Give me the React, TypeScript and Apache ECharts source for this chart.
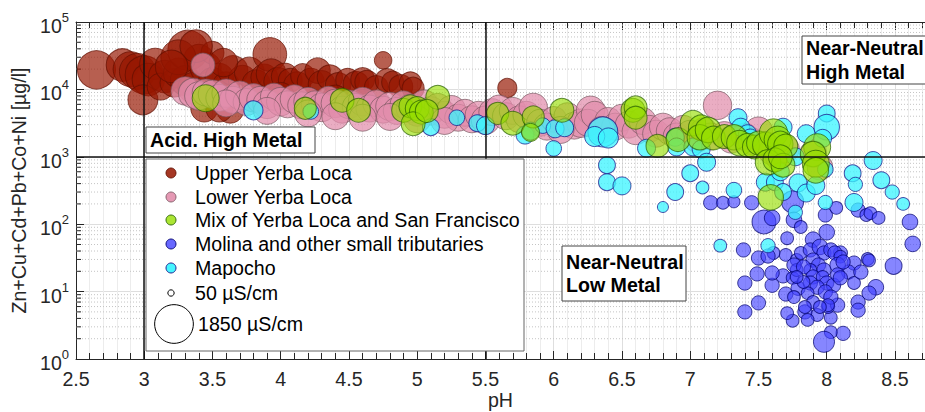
import React, { useEffect, useRef } from "react";
import * as echarts from "echarts";

// ---- DATA: [pH, metals µg/l, conductivity µS/cm] ----
const upperYerbaLoca: number[][] = [
  [2.65, 19500, 1800], [2.84, 23000, 1300], [2.9, 20000, 1500], [2.95, 18500, 1600], [3.0, 16500, 1800],
  [3.03, 14000, 1300], [2.99, 7000, 1100], [3.08, 24000, 1200], [3.15, 15500, 1300], [3.12, 11000, 900],
  [3.22, 12500, 1000], [3.25, 17500, 1100], [3.32, 38000, 2000], [3.3, 13500, 1100], [3.36, 10500, 1200],
  [3.4, 28000, 1100], [3.45, 21000, 1200], [3.5, 35000, 650], [3.5, 13000, 1000], [3.44, 5200, 900],
  [3.55, 15000, 1000], [3.6, 11500, 900], [3.65, 19000, 1100], [3.63, 5000, 900], [3.72, 14000, 1000],
  [3.77, 18000, 1100], [3.82, 12000, 1000], [3.88, 15000, 900], [3.92, 33000, 1400], [3.93, 17000, 1100],
  [3.98, 13000, 1000], [4.03, 15500, 900], [4.07, 13700, 700], [4.12, 11500, 900], [4.16, 16000, 700],
  [4.22, 13000, 900], [4.27, 19000, 800], [4.3, 12000, 900], [4.36, 15000, 800], [4.42, 11500, 800],
  [4.49, 13700, 700], [4.55, 12000, 800], [4.6, 14000, 700], [4.63, 12800, 700], [4.7, 10700, 700],
  [4.75, 27000, 380], [4.78, 13500, 700], [4.82, 12800, 600], [4.88, 11000, 700], [4.95, 12500, 600],
  [4.97, 10400, 600], [5.66, 10500, 450], [3.8, 7500, 900], [4.0, 8000, 900], [4.2, 6800, 900],
  [4.4, 7500, 800], [4.6, 6500, 800], [3.55, 5200, 900], [3.25, 30000, 1500], [3.38, 44000, 1300],
  [3.2, 22000, 1300], [3.58, 25000, 1000],
];

const lowerYerbaLoca: number[][] = [
  [3.3, 9500, 1000], [3.36, 8800, 1100], [3.4, 8000, 1000], [3.45, 9000, 900], [3.43, 23000, 700],
  [3.5, 8500, 1000], [3.55, 7500, 900], [3.6, 8800, 1000], [3.65, 7000, 900], [3.7, 8200, 1000],
  [3.75, 6500, 900], [3.8, 7500, 1000], [3.85, 7000, 900], [3.9, 6000, 1000], [3.95, 7800, 900],
  [4.0, 6600, 1000], [4.05, 6000, 900], [4.1, 7200, 1000], [4.15, 5800, 900], [4.2, 6600, 1000],
  [4.25, 6000, 900], [4.3, 5400, 1000], [4.35, 7000, 900], [4.4, 6200, 1000], [4.45, 5000, 900],
  [4.5, 6000, 1000], [4.55, 5500, 900], [4.6, 6600, 1000], [4.65, 5200, 900], [4.7, 6200, 900],
  [4.75, 5000, 900], [4.8, 5600, 1000], [4.85, 4800, 900], [4.9, 6000, 900], [4.95, 5200, 1000],
  [5.0, 4500, 900], [5.05, 6200, 900], [5.1, 4800, 1000], [5.15, 5500, 900], [5.2, 4200, 900],
  [5.25, 5000, 1000], [5.3, 3800, 900], [5.35, 4500, 900], [5.4, 3600, 900], [5.45, 4200, 900],
  [5.5, 3500, 1000], [5.55, 4600, 900], [5.6, 5200, 900], [5.65, 4000, 900], [5.7, 4800, 900],
  [5.75, 3600, 900], [5.8, 4200, 900], [5.85, 5400, 1000], [5.9, 3200, 900], [5.95, 2800, 900],
  [6.0, 3600, 800], [6.1, 4000, 900], [6.15, 2900, 900], [6.2, 3150, 1000], [6.27, 4900, 1000],
  [6.25, 3200, 900], [6.3, 4200, 900], [6.4, 3400, 900], [6.45, 2800, 900], [6.5, 3800, 900],
  [6.55, 3000, 900], [6.6, 2400, 900], [6.65, 3400, 900], [6.7, 2600, 900], [6.75, 2200, 900],
  [6.8, 2800, 900], [6.85, 2400, 900], [6.9, 2000, 900], [6.95, 2600, 900], [7.0, 2200, 900],
  [7.05, 1800, 800], [7.1, 2400, 900], [7.15, 2000, 900], [7.2, 5800, 1000], [7.25, 2100, 900],
  [7.3, 1800, 900], [7.4, 2000, 900], [7.45, 1700, 900], [7.5, 2400, 1000], [7.55, 1500, 900],
  [7.6, 1200, 900], [7.65, 1000, 900], [7.7, 1300, 900], [7.9, 1100, 900], [7.95, 700, 800],
  [3.6, 6200, 900], [3.9, 4800, 900], [4.2, 4400, 900], [4.4, 4000, 900], [4.6, 3800, 900],
  [4.8, 3900, 900], [5.0, 3600, 900], [5.2, 3400, 900], [6.05, 2500, 900], [6.35, 2500, 900],
];

const mixYerbaSanFrancisco: number[][] = [
  [3.45, 7400, 900], [4.18, 5250, 600], [4.45, 6900, 700], [4.57, 4900, 700], [4.9, 4900, 700],
  [4.95, 5600, 650], [5.0, 5200, 700], [5.03, 4600, 700], [4.97, 3100, 700], [5.15, 7640, 700],
  [5.07, 4800, 650], [5.59, 4420, 600], [5.7, 3150, 700], [5.85, 3900, 600], [5.83, 2300, 400],
  [6.06, 4900, 700], [6.58, 4900, 700], [6.6, 5400, 650], [6.6, 3800, 650], [6.76, 1450, 650],
  [6.91, 1800, 700], [7.02, 3150, 800], [7.08, 2700, 800], [7.07, 1950, 800], [7.13, 2500, 800],
  [7.17, 1900, 700], [7.25, 2000, 700], [7.32, 1950, 800], [7.36, 1600, 800], [7.42, 1480, 700],
  [7.47, 1400, 700], [7.5, 1600, 700], [7.55, 1500, 800], [7.61, 2250, 1000], [7.64, 1800, 900],
  [7.66, 1550, 800], [7.7, 1450, 700], [7.57, 830, 800], [7.62, 900, 700], [7.68, 750, 700],
  [7.66, 1000, 700], [7.93, 1390, 900], [7.9, 1100, 800], [7.92, 790, 900], [7.92, 630, 800],
  [7.59, 250, 800],
];

const molinaTributaries: number[][] = [
  [7.15, 208, 250], [7.24, 208, 200], [7.32, 215, 180], [7.45, 208, 250], [7.54, 108, 700],
  [7.6, 124, 300], [7.75, 215, 600], [7.76, 116, 300], [7.81, 91, 200], [7.99, 137, 250],
  [8.0, 76, 300], [8.07, 175, 200], [8.23, 162, 250], [8.29, 137, 200], [8.32, 146, 200],
  [8.38, 124, 200], [8.61, 108, 300], [8.63, 51, 300], [8.49, 24, 350], [8.36, 11.6, 300],
  [8.31, 9.5, 250], [8.23, 7, 250], [8.23, 5.3, 250], [8.3, 30.5, 200], [8.2, 26.5, 250],
  [8.16, 19.5, 250], [8.2, 13.4, 200], [8.1, 37.4, 250], [8.12, 2.4, 250], [8.03, 2.5, 200],
  [7.98, 1.8, 550], [8.03, 4.1, 200], [8.01, 5.9, 200], [8.08, 6.3, 250], [7.93, 4.5, 200],
  [7.84, 5, 250], [7.86, 3.8, 200], [7.75, 3.7, 200], [7.71, 4.8, 200], [7.7, 9.2, 250],
  [7.6, 12.4, 250], [7.68, 17.1, 250], [7.75, 16, 200], [7.6, 18.9, 250], [7.7, 35, 200],
  [7.71, 62, 200], [7.61, 37.4, 200], [7.5, 31.5, 250], [7.57, 33.7, 250], [7.39, 41.5, 250],
  [7.49, 18.3, 250], [7.4, 13.4, 250], [7.4, 5, 250], [7.5, 6.8, 250], [7.79, 11.2, 250],
  [7.78, 29.4, 200], [7.78, 20.9, 200], [7.81, 37.4, 200], [7.9, 59, 300], [7.88, 41.5, 250],
  [7.95, 46, 300], [7.98, 37.4, 250], [8.03, 41.5, 250], [8.06, 37.4, 250], [8.1, 33, 200],
  [7.9, 29.4, 250], [7.94, 24.8, 250], [7.98, 20.9, 250], [7.88, 20.9, 200], [7.9, 16.5, 250],
  [7.97, 16.5, 200], [8.0, 13.4, 250], [8.05, 12.4, 250], [7.88, 13.4, 250], [7.93, 11.6, 250],
  [7.99, 9.9, 250], [7.86, 9.5, 200], [8.03, 8.3, 250], [7.9, 7, 200], [8.01, 6.3, 200],
  [7.84, 5.9, 200], [7.95, 5.9, 200], [8.08, 24.8, 300], [8.12, 27.5, 250], [8.08, 17.7, 250],
  [8.1, 16, 250], [7.76, 24.8, 250], [7.83, 23.2, 250], [7.83, 13.9, 200], [7.78, 16.5, 200],
  [7.76, 8.3, 200], [8.31, 29, 200], [8.25, 19.5, 250],
];

const mapocho: number[][] = [
  [3.8, 4900, 450], [4.22, 4700, 300], [5.1, 2750, 350], [5.29, 3800, 300], [5.44, 3150, 350],
  [5.5, 2900, 400], [5.79, 2100, 400], [5.83, 2400, 400], [5.92, 2900, 300], [6.01, 2600, 400],
  [6.08, 2700, 400], [6.0, 1330, 300], [6.36, 2340, 1100], [6.3, 2000, 500], [6.4, 1900, 500],
  [6.68, 1340, 400], [6.89, 1950, 400], [6.9, 1400, 400], [7.02, 1400, 400], [7.08, 1300, 400],
  [7.35, 3800, 400], [7.37, 2750, 400], [7.42, 2200, 400], [7.44, 1900, 400], [7.68, 2750, 400],
  [7.85, 2200, 400], [8.0, 4400, 350], [8.0, 2750, 800], [7.97, 1880, 400], [7.99, 650, 300],
  [6.39, 750, 350], [6.39, 420, 350], [6.5, 370, 400], [6.8, 180, 150], [6.89, 300, 350],
  [7.0, 570, 350], [7.09, 350, 200], [7.12, 830, 400], [7.32, 320, 300], [7.22, 48, 200],
  [7.57, 48, 250], [7.55, 420, 400], [7.62, 420, 350], [7.68, 300, 350], [7.66, 600, 400],
  [7.77, 1000, 400], [7.77, 150, 250], [7.79, 410, 400], [7.85, 290, 400], [7.92, 375, 400],
  [7.99, 210, 250], [8.19, 570, 350], [8.21, 390, 250], [8.2, 210, 400], [8.34, 880, 400],
  [8.4, 450, 350], [8.48, 300, 250], [8.56, 200, 200],
];

const legendSizes = [50, 1850];
const dividerPH = [3, 5.5];
const dividerMetal = [1000];
const PH_MIN = 2.5;
const PH_MAX = 8.72;
const METAL_MIN = 1;
const METAL_MAX = 100000;
const decades = [1, 10, 100, 1000, 10000];
const minorMultipliers = [2, 3, 4, 5, 6, 7, 8, 9];

const FONT = "'Liberation Sans', Arial, Helvetica, sans-serif";
const AX = "#262626";
const FS = 19.6;

const sizeOf = (c: number) => 0.9 * Math.sqrt(c);

const groups = [
  { name: "Upper Yerba Loca", data: upperYerbaLoca, fill: "rgba(150,22,0,0.86)", stroke: "rgba(100,15,0,0.9)" },
  { name: "Lower Yerba Loca", data: lowerYerbaLoca, fill: "rgba(226,142,172,0.9)", stroke: "rgba(120,85,95,0.85)" },
  { name: "Molina and other small tributaries", data: molinaTributaries, fill: "rgba(66,66,255,0.8)", stroke: "rgba(0,0,110,0.9)" },
  { name: "Mapocho", data: mapocho, fill: "rgba(60,244,255,0.95)", stroke: "rgba(25,25,140,0.95)" },
  { name: "Mix of Yerba Loca and San Francisco", data: mixYerbaSanFrancisco, fill: "rgba(150,222,0,0.8)", stroke: "rgba(40,95,0,0.9)" },
];
const legendOrder = [
  "Upper Yerba Loca",
  "Lower Yerba Loca",
  "Mix of Yerba Loca and San Francisco",
  "Molina and other small tributaries",
  "Mapocho",
];

export default function App() {
  const ref = useRef<HTMLDivElement>(null);
  useEffect(() => {
    if (!ref.current) return;
    const chart = echarts.init(ref.current, null, { renderer: "svg" });
    const minorY: number[][] = [];
    decades.forEach((d) => minorMultipliers.forEach((m) => minorY.push([PH_MIN, d * m])));

    const scatterSeries = groups.map((g) => ({
      type: "scatter",
      name: g.name,
      data: g.data,
      symbol: "circle",
      symbolSize: (v: number[]) => sizeOf(v[2]),
      itemStyle: { color: g.fill, borderColor: g.stroke, borderWidth: 1 },
      z: 3,
      silent: true,
    }));

    // legend graphic
    const lgX = 146, lgY = 159, lgW = 378, lgH = 192;
    const rowY = [173, 197, 220, 244, 268, 293];
    const legendEls: any[] = [
      { type: "rect", shape: { x: lgX, y: lgY, width: lgW, height: lgH }, style: { fill: "#fff", stroke: "#666", lineWidth: 1 }, z: 100 },
    ];
    legendOrder.forEach((n, i) => {
      const g = groups.find((q) => q.name === n)!;
      legendEls.push({ type: "circle", shape: { cx: 171, cy: rowY[i], r: 5 }, style: { fill: g.fill, stroke: g.stroke, lineWidth: 1 }, z: 101 });
      legendEls.push({ type: "text", x: 195, y: rowY[i], style: { text: n, font: `${FS}px ${FONT}`, fill: "#000", textVerticalAlign: "middle" }, z: 101 });
    });
    legendEls.push({ type: "circle", shape: { cx: 171, cy: rowY[5], r: sizeOf(legendSizes[0]) / 2 }, style: { fill: "#fff", stroke: "#000", lineWidth: 1 }, z: 101 });
    legendEls.push({ type: "text", x: 195, y: rowY[5], style: { text: `${legendSizes[0]} µS/cm`, font: `${FS}px ${FONT}`, fill: "#000", textVerticalAlign: "middle" }, z: 101 });
    legendEls.push({ type: "circle", shape: { cx: 174, cy: 324, r: sizeOf(legendSizes[1]) / 2 }, style: { fill: "#fff", stroke: "#000", lineWidth: 1 }, z: 101 });
    legendEls.push({ type: "text", x: 198, y: 324, style: { text: `${legendSizes[1]} µS/cm`, font: `${FS}px ${FONT}`, fill: "#000", textVerticalAlign: "middle" }, z: 101 });

    const boxText = (x: number, y: number, w: number, h: number, text: string, lh: number) => [
      { type: "rect", shape: { x, y, width: w, height: h }, style: { fill: "#fff", stroke: "#444", lineWidth: 1 }, z: 100 },
      { type: "text", x: x + 4, y: y + h / 2, style: { text, font: `bold ${FS}px ${FONT}`, fill: "#000", textVerticalAlign: "middle", lineHeight: lh }, z: 101 },
    ];

    chart.setOption({
      animation: false,
      textStyle: { fontFamily: FONT },
      grid: { left: 76, top: 22, right: 0, bottom: 53, containLabel: false, outerBoundsMode: "none" },
      xAxis: [
        {
          type: "value", min: PH_MIN, max: PH_MAX, interval: 0.5, position: "bottom",
          name: "pH", nameLocation: "middle", nameGap: 31, nameMoveOverlap: false,
          nameTextStyle: { fontSize: FS, color: AX, fontFamily: FONT, verticalAlign: "top", lineHeight: 20 },
          axisLine: { show: true, lineStyle: { color: AX, width: 1 } },
          axisTick: { show: true, inside: true, length: 8, lineStyle: { color: AX } },
          minorTick: { show: true, splitNumber: 5, length: 6, lineStyle: { color: AX } },
          axisLabel: { fontSize: FS, color: AX, margin: 10, showMaxLabel: false, fontFamily: FONT },
          splitLine: { show: true, lineStyle: { color: "#dedede", width: 1 } },
          minorSplitLine: { show: true, lineStyle: { color: "#ececec", width: 1 } },
        },
        {
          type: "value", min: PH_MIN, max: PH_MAX, interval: 0.5, position: "top",
          axisLine: { show: true, lineStyle: { color: AX, width: 1 } },
          axisTick: { show: true, inside: true, length: 8, lineStyle: { color: AX } },
          minorTick: { show: true, splitNumber: 5, length: 6, lineStyle: { color: AX } },
          axisLabel: { show: false },
          splitLine: { show: false },
        },
      ],
      yAxis: {
        type: "log", logBase: 10, min: METAL_MIN, max: METAL_MAX,
        name: "Zn+Cu+Cd+Pb+Co+Ni [µg/l]", nameLocation: "middle", nameGap: 44, nameRotate: 90,
        nameTextStyle: { fontSize: 19.6, color: AX, fontFamily: FONT },
        axisLine: { show: true, lineStyle: { color: AX, width: 1 } },
        axisTick: { show: true, inside: true, length: 8, lineStyle: { color: AX } },
        splitLine: { show: true, lineStyle: { color: "#dedede", width: 1 } },
        axisLabel: {
          margin: 7,
          formatter: (v: number) => `{b|10}{s|${Math.round(Math.log10(v))}}`,
          rich: {
            b: { fontSize: 19.5, color: AX, fontFamily: FONT, lineHeight: 22, padding: [8, 0, 0, 0] },
            s: { fontSize: 13, color: AX, fontFamily: FONT, lineHeight: 22, verticalAlign: "top" },
          },
        },
      },
      graphic: [
        ...boxText(146, 127, 169, 26, "Acid. High Metal", 24),
        ...boxText(802, 36, 130, 48, "Near-Neutral\nHigh Metal", 24),
        ...boxText(562, 246, 124, 55, "Near-Neutral\nLow Metal", 23),
        ...legendEls,
      ],
      series: [
        {
          type: "custom",
          name: "minorGrid",
          silent: true,
          clip: false,
          z: 1,
          data: minorY,
          encode: { x: 0, y: 1 },
          renderItem: (_p: any, api: any) => {
            const v = api.value(1);
            const a = api.coord([PH_MIN, v]);
            const b = api.coord([PH_MAX, v]);
            return {
              type: "group",
              children: [
                { type: "line", shape: { x1: a[0], y1: a[1], x2: b[0], y2: b[1] }, style: { stroke: "#c4c4c4", lineWidth: 1, lineDash: [1, 2] } },
                { type: "line", shape: { x1: a[0], y1: a[1], x2: a[0] + 5, y2: a[1] }, style: { stroke: AX, lineWidth: 1 } },
              ],
            };
          },
        },
        ...scatterSeries,
        {
          type: "line",
          name: "dividers",
          data: [],
          silent: true,
          z: 10,
          markLine: {
            silent: true,
            symbol: ["none", "none"],
            label: { show: false },
            lineStyle: { color: "#111", width: 1.5, type: "solid" },
            data: [
              ...dividerPH.map((x) => ({ xAxis: x })),
              ...dividerMetal.map((y) => ({ yAxis: y })),
            ],
          },
        },
      ],
    });
    return () => chart.dispose();
  }, []);
  return <div ref={ref} style={{ position: "absolute", left: 0, top: 0, width: 925, height: 412, background: "#fff" }} />;
}
